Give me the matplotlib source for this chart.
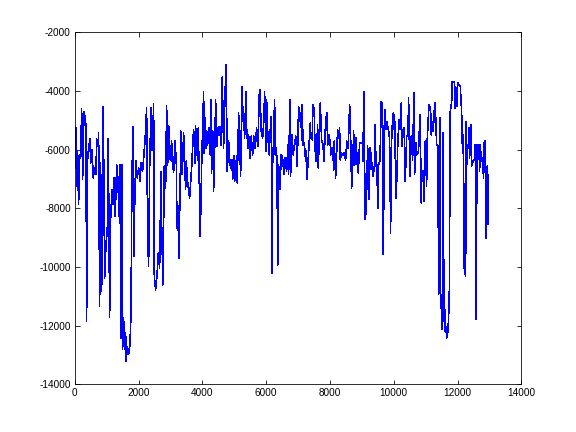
import matplotlib
matplotlib.use("Agg")
import matplotlib.pyplot as plt

# sample index and amplitude
sample_index = [
    0, 34, 55, 76, 118, 139, 180, 212, 243, 285, 327, 348, 369, 390, 431,
    473, 494, 536, 578, 619, 661, 682, 724, 745, 776, 807, 839, 860, 891,
    933, 975, 1016, 1048, 1090, 1121, 1163, 1205, 1236, 1267, 1309, 1351,
    1382, 1414, 1445, 1476, 1497, 1528, 1560, 1591, 1612, 1643, 1685, 1727,
    1758, 1790, 1821, 1852, 1884, 1915, 1957, 1999, 2040, 2082, 2124, 2166,
    2208, 2250, 2281, 2312, 2343,
    2386, 2428, 2470, 2491, 2532, 2574, 2616, 2658, 2700, 2721, 2762, 2804,
    2846, 2877, 2909, 2950, 2992, 3034, 3055, 3097, 3139, 3180, 3201, 3222,
    3264, 3285, 3327, 3368, 3410, 3431, 3473, 3494, 3536, 3598, 3661, 3703,
    3724, 3766, 3786, 3807, 3849, 3870, 3933, 3975, 4037, 4058, 4079, 4121,
    4142, 4163, 4204, 4246, 4267, 4288, 4330, 4351, 4393, 4413, 4455, 4497,
    4539, 4581, 4622, 4643, 4664, 4706,
    4738, 4759, 4780, 4822, 4843, 4884, 4926, 4947, 4989, 5010, 5031, 5073,
    5093, 5135, 5177, 5198, 5240, 5261, 5282, 5323, 5365, 5386, 5428, 5449,
    5491, 5532, 5574, 5616, 5658, 5700, 5741, 5783, 5804, 5846, 5888, 5929,
    5950, 5992, 6013, 6055, 6097, 6118, 6159, 6180, 6201, 6222, 6264, 6285,
    6327, 6368, 6389, 6431, 6473, 6515, 6556, 6598, 6640, 6682, 6703, 6745,
    6765, 6807, 6849, 6891, 6933, 6974, 7016, 7058,
    7090, 7111, 7132, 7153, 7195, 7236, 7257, 7278, 7299, 7341, 7383, 7404,
    7445, 7466, 7508, 7529, 7571, 7613, 7634, 7675, 7696, 7738, 7780, 7822,
    7843, 7884, 7905, 7926, 7968, 7989, 8010, 8031, 8072, 8093, 8114, 8135,
    8177, 8198, 8240, 8281, 8302, 8323, 8365, 8407, 8449, 8490, 8532, 8574,
    8616, 8637, 8679, 8720, 8741, 8783, 8825, 8846, 8888, 8929, 8971, 9013,
    9034, 9055, 9076, 9097, 9138, 9180, 9201, 9222, 9264, 9306, 9347, 9389,
    9421, 9442, 9463, 9484, 9505, 9526, 9568, 9609, 9651, 9672, 9714, 9735,
    9756, 9777, 9818, 9860, 9881, 9902, 9923, 9965, 9986, 10006, 10027,
    10069, 10090, 10132, 10174, 10195, 10236, 10257, 10278, 10320, 10341,
    10362, 10404, 10445, 10466, 10508, 10550, 10592, 10633, 10654, 10696,
    10717, 10759, 10780, 10822, 10842, 10863, 10884, 10926, 10947, 10989,
    11031, 11051, 11093, 11114, 11156, 11177, 11198, 11240, 11281, 11302,
    11344, 11386, 11407, 11428, 11449, 11470, 11490, 11511, 11532, 11553,
    11574, 11595, 11616, 11637, 11658, 11700, 11741,
    11773, 11815, 11836, 11899, 11920, 11940, 11982, 12003, 12045, 12087,
    12129, 12149, 12170, 12191, 12212, 12254, 12275, 12296, 12317, 12338,
    12358, 12379, 12421, 12442, 12484, 12526, 12547, 12567, 12588, 12609,
    12651, 12672, 12693, 12714, 12735, 12756, 12776, 12818, 12839, 12860,
    12881, 12902, 12923, 12944, 12965,
]

amplitude = [
    -6620, -5260, -7250, -6050, -7870, -6170, -6280, -4610, -7020, -4720,
    -4920, -5260, -11850, -6450, -5940, -5630, -6450, -5990, -6960, -6620,
    -6850, -5630, -5880, -5430, -11340, -6450, -10820, -8550, -4540, -10370,
    -9230, -8720, -5630, -11710, -8380, -7360, -7870, -6960, -8270, -6510,
    -7020, -8270, -6510, -12410, -6510, -12810, -11730, -12810, -12240,
    -13210, -12700, -12980, -12640, -11680, -6960, -5220, -9630, -7300,
    -6390, -6960, -6620, -7080, -6450, -6730, -6170, -5540, -4580, -8890,
    -9970, -6730,
    -4580, -6030, -4420, -10310, -10770, -10310, -9520, -10030, -6760,
    -8550, -10600, -6560, -7300, -4490, -6510, -5200, -6340, -5710, -6390,
    -6770, -5710, -6390, -8670, -7760, -9690, -8210, -5370, -6850, -5430,
    -6110, -7360, -6390, -7080, -7640, -6620, -5660, -5310, -6450, -5200,
    -5770, -6340, -5260, -8950, -6560, -4040, -6110, -4920, -5940, -5370,
    -5830, -5260, -6170, -4290, -6790, -5370, -7420, -5600, -4290, -5880,
    -5260, -5200, -5830, -3530, -4780, -5940, -4240,
    -3100, -4690, -6730, -5710, -6220, -6620, -6340, -7020, -6220, -7080,
    -6850, -6220, -7130, -4750, -6050, -6910, -3840, -5030, -4520, -5600,
    -4010, -5260, -5940, -5490, -6280, -5540, -6170, -5540, -5940, -5260,
    -5880, -4120, -3950, -5370, -5600, -4970, -4010, -6050, -4290, -5600,
    -6170, -5490, -4860, -10200, -6510, -5940, -4290, -6170, -5940, -9920,
    -6510, -7360, -6170, -6280, -6850, -6280, -6730, -5830, -6850, -4290,
    -6910, -5490, -6170, -5770, -5540, -6560, -4520, -5030,
    -4750, -5660, -4460, -5830, -5770, -6390, -6050, -7020, -6620, -5880,
    -5090, -5600, -5660, -4460, -4630, -5940, -6390, -5140, -6620, -5090,
    -4410, -5660, -5830, -6390, -5490, -4860, -4750, -5830, -5490, -5830,
    -5660, -6170, -5940, -5990, -6680, -5710, -6960, -6390, -5310, -5600,
    -5260, -6340, -6110, -6170, -6110, -6340, -5710, -5940, -4460, -4920,
    -7300, -6390, -5370, -6510, -5600, -6390, -6790, -5770, -5770, -5770,
    -6390, -4580, -4010, -8380, -8100, -5880, -6390, -7700, -5940, -6390,
    -6900, -6620,
    -5140, -6560, -6390, -7190, -7980, -6510, -6390, -4350, -4460, -9570,
    -4750, -4630, -5310, -5030, -5260, -5490, -6510, -8840, -5940, -4920,
    -4750, -5310, -4800, -7640, -7190, -5600, -4970, -5310, -4410, -5880,
    -5370, -5260, -5880, -7080, -5540, -5540, -4240, -6910, -5540, -6340,
    -4070, -6850, -5770, -6170, -6110, -5990, -4800, -5990, -7810, -6730,
    -6730, -7760, -5710, -7250, -5660, -4690, -4460, -4630, -5490, -5030,
    -5370, -4460, -4410, -5830, -5880, -10940, -10770, -4920, -11390,
    -10940, -12130, -11850, -5430, -11850, -11280, -12190, -12020, -12410,
    -12190, -11170,
    -4690, -4410, -3670, -3690, -4580, -3840, -4520, -3720, -3780, -3840,
    -4690, -5770, -5490, -6620, -10030, -10310, -5030, -6510, -5830, -5940,
    -5260, -6280, -5140, -6560, -6390, -6340, -5830, -6390, -11790, -5830,
    -6170, -5830, -6730, -5830, -6170, -6390, -6280, -6960, -5770, -5710,
    -6110, -9010, -6620, -6560, -8550,
]

x_ticks = list(range(0, 14001, 2000))
y_ticks = list(range(-14000, -1999, 2000))


def main():
    plt.rcParams["font.family"] = ["Liberation Sans", "DejaVu Sans"]
    plt.rcParams["axes.unicode_minus"] = False

    fig = plt.figure(figsize=(8, 6), dpi=72)
    ax = fig.add_axes([0.13, 0.11, 0.775, 0.815])

    ax.plot(sample_index, amplitude, color=(0, 0, 1), linewidth=0.6,
            antialiased=False)

    ax.set_xlim(0, 14000)
    ax.set_ylim(-14000, -2000)
    ax.set_xticks(x_ticks)
    ax.set_yticks(y_ticks)
    ax.tick_params(direction="in", length=4.5, width=0.8, top=True,
                   right=True, labelsize=10, pad=4)
    for spine in ax.spines.values():
        spine.set_linewidth(0.8)

    fig.savefig("out.png", dpi=72)


if __name__ == "__main__":
    main()
